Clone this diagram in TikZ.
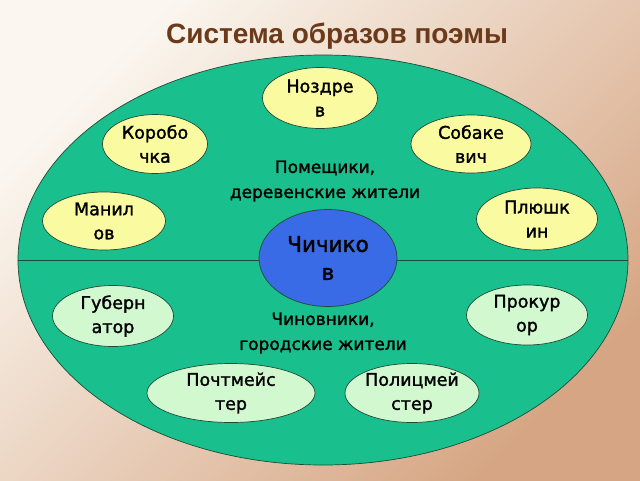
\documentclass[tikz,border=0pt]{standalone}
\usepackage{fontspec}
\setmainfont{DejaVu Sans}
\newfontfamily\titlefont{Liberation Sans}
\newfontfamily\nodefont[FakeBold=1.6]{DejaVu Sans}
\usetikzlibrary{shapes.geometric}
\definecolor{bgA}{HTML}{FBF7F0}
\definecolor{bgB}{HTML}{D6A684}
\definecolor{bigG}{HTML}{19BF8C}
\definecolor{yel}{HTML}{FAFAA0}
\definecolor{lgr}{HTML}{D2F8D0}
\definecolor{blu}{HTML}{3A6BE6}
\definecolor{ttl}{HTML}{6B3A1A}
\definecolor{edge}{HTML}{1E4A38}
\begin{document}
\begin{tikzpicture}[x=1pt,y=-1pt,
  oval/.style={ellipse, draw=edge, line width=0.7pt, inner sep=0pt, align=center,
    font=\nodefont\fontsize{17.5}{24}\selectfont},
  upper/.style={oval, fill=yel},
  lower/.style={oval, fill=lgr},
  grp/.style={align=center, font=\nodefont\fontsize{17}{25}\selectfont}]
\shade[left color=bgA, right color=bgB, shading angle=45] (0,0) rectangle (640,480);
\useasboundingbox (0,0) rectangle (640,480);
\node[font=\titlefont\bfseries\fontsize{28}{30}\selectfont, text=ttl, anchor=base] (title) at (337,43) {Система образов поэмы};
\node[ellipse, draw=edge, line width=0.7pt, fill=bigG, minimum width=610pt, minimum height=410pt, inner sep=0pt] (big) at (323,260) {};
\draw[edge, line width=0.7pt] (big.west) -- (big.east);
\node[upper, minimum width=115pt, minimum height=61pt] (nozdrev) at (320,98) {Ноздре\\в};
\node[upper, minimum width=105pt, minimum height=59pt] (korob) at (155,144) {Коробо\\чка};
\node[upper, minimum width=120pt, minimum height=58pt] (sobak) at (471,144) {Собаке\\вич};
\node[upper, minimum width=123pt, minimum height=58pt] (manil) at (104,221) {Манил\\ов};
\node[upper, minimum width=121pt, minimum height=62pt] (plyush) at (537,219) {Плюшк\\ин};
\node[lower, minimum width=121pt, minimum height=61pt] (guber) at (113,316) {Губерн\\атор};
\node[lower, minimum width=121pt, minimum height=60pt] (prokur) at (527,315) {Прокур\\ор};
\node[lower, minimum width=168pt, minimum height=59pt] (pocht) at (231,393) {Почтмейс\\тер};
\node[lower, minimum width=134pt, minimum height=59pt] (polic) at (412,393) {Полицмей\\стер};
\node[oval, fill=blu, minimum width=138pt, minimum height=97pt, font=\nodefont\fontsize{21.5}{28}\selectfont] (chich) at (328,258) {Чичико\\в};
\node[grp] (pomesh) at (325,181) {Помещики,\\деревенские жители};
\node[grp] (chinov) at (323,333) {Чиновники,\\городские жители};
\end{tikzpicture}
\end{document}
